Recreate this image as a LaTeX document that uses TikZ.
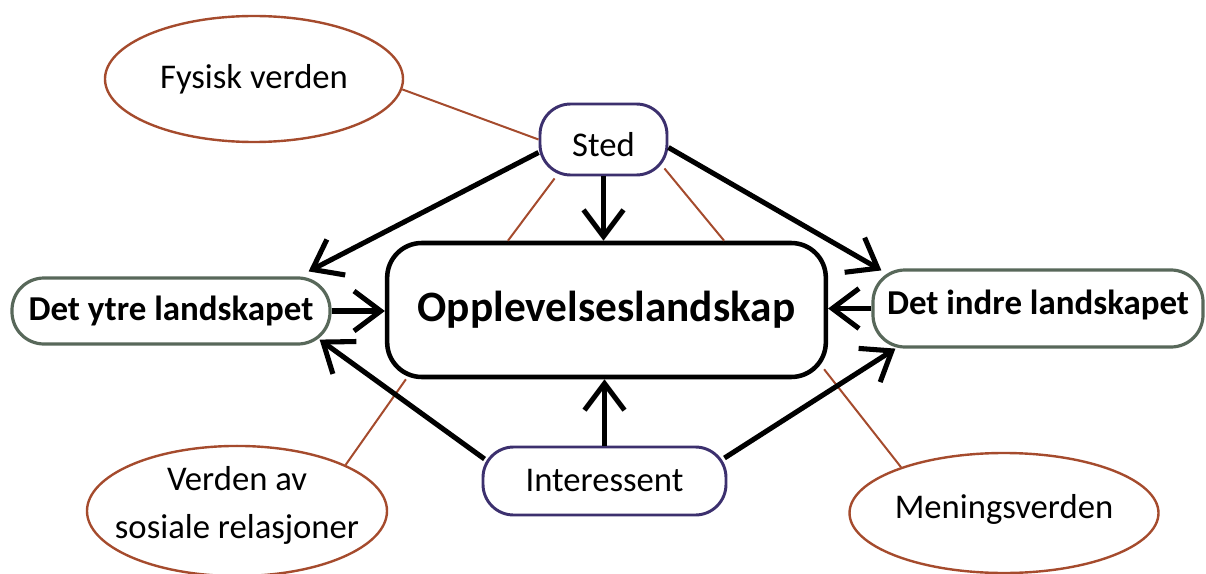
\documentclass[tikz,border=0pt]{standalone}
\usepackage{fontspec}
\setmainfont{Carlito}
\usetikzlibrary{arrows.meta,shapes.geometric}
\definecolor{brownline}{RGB}{165,75,45}
\definecolor{stedcol}{RGB}{60,48,110}
\definecolor{greycol}{RGB}{88,104,90}
\tikzset{
  mainbox/.style={draw=black,line width=3.4pt,rounded corners=26pt,fill=white,minimum width=329pt,minimum height=100.5pt,inner sep=0pt,font=\fontsize{32.5}{36}\selectfont\bfseries},
  purplebox/.style={draw=stedcol,line width=2.2pt,rounded corners=23pt,fill=white,inner sep=0pt,font=\fontsize{26}{30}\selectfont},
  greybox/.style={draw=greycol,line width=2.4pt,rounded corners=24pt,fill=white,inner sep=0pt,font=\fontsize{26.2}{30}\selectfont\bfseries},
  worldell/.style={ellipse,draw=brownline,line width=1.8pt,fill=white,inner sep=0pt,align=center,font=\fontsize{26}{33}\selectfont},
  link/.style={draw=brownline,line width=1.5pt},
  flow/.style={draw=black,line width=3.8pt,-{Straight Barb[length=20pt,width=30pt]}}
}
\begin{document}
\begin{tikzpicture}[x=0.75pt,y=-0.75pt]
\useasboundingbox (0,0) rectangle (1206,574);
% nodes
\node[mainbox] (main) at (606.5,310) {Opplevelseslandskap};
\node[purplebox,minimum width=95.25pt,minimum height=53.25pt] (sted) at (603.5,139.5) {\raisebox{-3.5pt}[\height][\depth]{Sted}};
\node[purplebox,minimum width=182.25pt,minimum height=51pt] (inter) at (604.5,481) {Interessent};
\node[greybox,minimum width=238.5pt,minimum height=49.5pt] (ytre) at (171,311) {Det ytre landskapet};
\node[greybox,minimum width=247.5pt,minimum height=57.75pt] (indre) at (1038,308.5) {\raisebox{3pt}[\height][\depth]{Det indre landskapet}};
\node[worldell,minimum width=223.5pt,minimum height=94.5pt] (fys) at (254,79) {Fysisk verden};
\node[worldell,minimum width=225pt,minimum height=93pt] (sos) at (237,511) {\makebox[0pt]{\raisebox{4pt}[\height][\depth]{\begin{tabular}{@{}c@{}}Verden av\\[3pt]sosiale relasjoner\end{tabular}}}};
\node[worldell,minimum width=223.5pt,minimum height=90pt] (men) at (1004,513) {\raisebox{3pt}[\height][\depth]{Meningsverden}};
% brown links
\draw[link] (fys.-4.6) -- (sted.west);
\draw[link] ([shift={(16,2)}]sted.south west) -- ([shift={(123,0)}]main.north west);
\draw[link] ([shift={(-4,-8)}]sted.south east) -- ([shift={(-104,0)}]main.north east);
\draw[link] ([shift={(21,0)}]main.south west) -- (sos.23);
\draw[link] ([shift={(-4,-10)}]main.south east) -- (men.156);
% black arrows
\draw[flow] ([shift={(0,13)}]sted.west) -- ([shift={(-23,-5)}]ytre.north east);
\draw[flow] ([shift={(0,8)}]sted.east) -- ([shift={(10,2)}]indre.north west);
\draw[flow] (sted.south) -- (sted.south |- main.north);
\draw[flow] (ytre.east) -- (ytre.east -| main.west);
\draw[flow] (indre.west) -- (indre.west -| main.east);
\draw[flow] (inter.north) -- (inter.north |- main.south);
\draw[flow] ([shift={(3,-22)}]inter.west) -- ([shift={(-12,-6)}]ytre.south east);
\draw[flow] ([shift={(-3,-23)}]inter.east) -- ([shift={(24,0)}]indre.south west);
\end{tikzpicture}
\end{document}
